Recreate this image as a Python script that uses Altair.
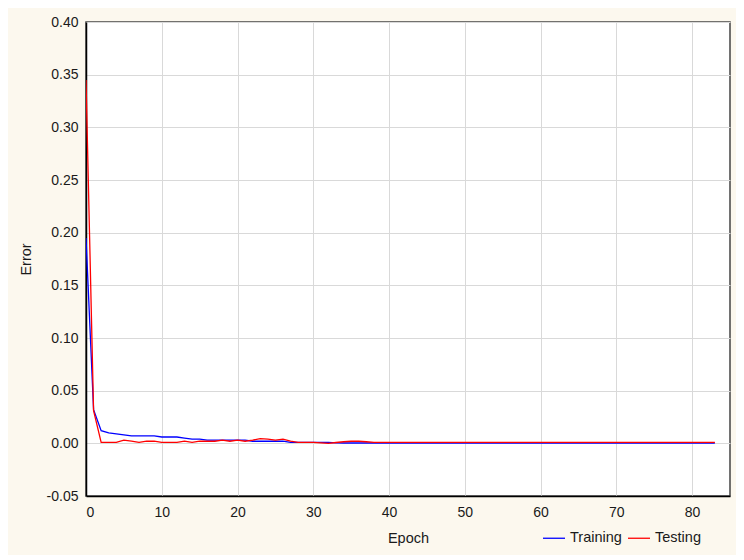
import altair as alt
import pandas as pd

epochs = list(range(84))

training = [
    0.195, 0.032, 0.012, 0.010, 0.009, 0.008, 0.007, 0.007, 0.007, 0.007,
    0.006, 0.006, 0.006, 0.005, 0.004, 0.004, 0.003, 0.003, 0.003, 0.003,
    0.003, 0.003, 0.002, 0.002, 0.002, 0.002, 0.002, 0.001, 0.001, 0.001,
    0.001, 0.001, 0.001, 0.0005, 0.0003, 0.0003, 0.0003, 0.0003, 0.0003, 0.0003,
    0.0003, 0.0003, 0.0003, 0.0003, 0.0003, 0.0003, 0.0003, 0.0003, 0.0003, 0.0003,
    0.0003, 0.0003, 0.0003, 0.0003, 0.0003, 0.0003, 0.0003, 0.0003, 0.0003, 0.0003,
    0.0003, 0.0003, 0.0003, 0.0003, 0.0003, 0.0003, 0.0003, 0.0003, 0.0003, 0.0003,
    0.0003, 0.0003, 0.0003, 0.0003, 0.0003, 0.0003, 0.0003, 0.0003, 0.0003, 0.0003,
    0.0003, 0.0003, 0.0003, 0.0003,
]

testing = [
    0.345, 0.031, 0.001, 0.001, 0.001, 0.003, 0.002, 0.001, 0.002, 0.002,
    0.001, 0.001, 0.001, 0.002, 0.001, 0.002, 0.002, 0.002, 0.003, 0.002,
    0.003, 0.002, 0.003, 0.0045, 0.004, 0.003, 0.004, 0.002, 0.001, 0.001,
    0.001, 0.0005, 0.0, 0.0008, 0.0015, 0.002, 0.002, 0.0015, 0.001, 0.001,
    0.001, 0.001, 0.001, 0.001, 0.001, 0.001, 0.001, 0.001, 0.001, 0.001,
    0.001, 0.001, 0.001, 0.001, 0.001, 0.001, 0.001, 0.001, 0.001, 0.001,
    0.001, 0.001, 0.001, 0.001, 0.001, 0.001, 0.001, 0.001, 0.001, 0.001,
    0.001, 0.001, 0.001, 0.001, 0.001, 0.001, 0.001, 0.001, 0.001, 0.001,
    0.001, 0.001, 0.001, 0.001,
]

series_names = ["Training", "Testing"]
series_colors = ["#0000ff", "#ff0000"]
x_ticks = [0, 10, 20, 30, 40, 50, 60, 70, 80]
y_ticks = [-0.05, 0.0, 0.05, 0.10, 0.15, 0.20, 0.25, 0.30, 0.35, 0.40]

df = pd.concat([
    pd.DataFrame({"Epoch": epochs, "Error": training, "Series": "Training", "k": 0}),
    pd.DataFrame({"Epoch": epochs, "Error": testing, "Series": "Testing", "k": 1}),
])

FONT = "Liberation Sans"

chart = alt.Chart(df).mark_line(strokeWidth=1.3, clip=True).encode(
    x=alt.X("Epoch:Q",
            scale=alt.Scale(domain=[0, 85], nice=False, zero=False),
            axis=alt.Axis(values=x_ticks, title="Epoch", format="d",
                          labelPadding=9, titlePadding=12)),
    y=alt.Y("Error:Q",
            scale=alt.Scale(domain=[-0.05, 0.40], nice=False, zero=False),
            axis=alt.Axis(values=y_ticks, title="Error",
                          labelExpr="replace(format(datum.value, '.2f'), '\u2212', '-')",
                          labelPadding=8, titlePadding=13)),
    color=alt.Color("Series:N",
                    scale=alt.Scale(domain=series_names, range=series_colors),
                    legend=alt.Legend(title=None, orient="none", direction="horizontal",
                                      legendX=456, legendY=504,
                                      symbolType="stroke", symbolSize=484,
                                      symbolStrokeWidth=1.3, labelOffset=4,
                                      columnPadding=3, padding=0,
                                      labelFont=FONT, labelFontSize=14.5,
                                      labelColor="#1a1a1a")),
    order=alt.Order("k:Q"),
).properties(
    width=644,
    height=474,
    background="#fcf8ee",
    padding={"left": 78, "top": 14, "right": 6, "bottom": 59},
    autosize=alt.AutoSizeParams(type="none"),
).configure_view(
    fill="white",
    stroke="#444444",
    strokeWidth=1.5,
).configure_axis(
    labelFont=FONT,
    titleFont=FONT,
    labelFontSize=14,
    titleFontSize=14.5,
    titleFontWeight="normal",
    labelColor="#1a1a1a",
    titleColor="#1a1a1a",
    ticks=False,
    grid=True,
    gridColor="#d9d9d9",
    gridWidth=1,
    domainColor="#000000",
    domainWidth=1.5,
)

chart.save("out.html", embed_options={"renderer": "svg", "actions": False})
